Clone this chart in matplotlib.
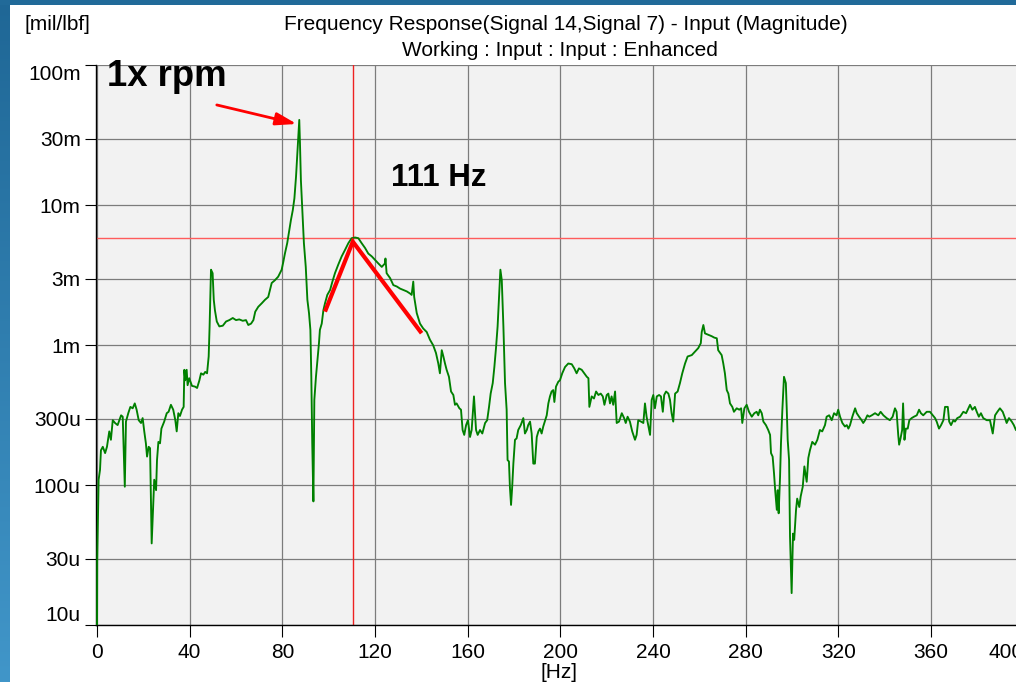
import numpy as np
import matplotlib
matplotlib.use("Agg")
import matplotlib.pyplot as plt
from matplotlib.ticker import FixedLocator, NullLocator
from matplotlib.colors import LinearSegmentedColormap

plt.rcParams['font.family'] = ['Liberation Sans', 'DejaVu Sans']

# ---------------- data (frequency in Hz, magnitude in dB re 1 mil/lbf) ----------------
freq_0_100 = [0.0, 0.1, 0.7, 1.3, 1.7, 2.5, 3.5, 4.3, 5.3, 6.0,
              6.8, 7.8, 8.9, 10.4, 11.1, 12.0, 12.5, 13.5, 14.4, 15.4,
              16.3, 17.1, 18.0, 19.0, 19.7, 20.4, 21.1, 21.6, 22.3, 22.9,
              23.6, 24.3, 24.7, 25.5, 25.9, 26.5, 27.2, 27.8, 29.0, 30.1,
              30.9, 31.9, 32.9, 33.8, 34.4, 35.1, 35.8, 36.7, 37.4, 37.7,
              38.1, 38.7, 39.1, 39.8, 41.0, 42.3, 43.2, 44.2, 44.9, 45.9,
              46.7, 47.5, 48.2, 48.6, 49.2, 49.9, 50.4, 50.9, 51.7, 52.8,
              54.3, 55.7, 57.1, 58.6, 60.0, 61.4, 62.9, 64.3, 65.3, 66.5,
              67.5, 68.3, 69.6, 71.1, 72.5, 73.9, 75.4, 76.8, 78.2, 79.7,
              80.4, 81.1, 82.1, 83.0, 83.7, 84.5, 85.2, 85.9, 86.4, 87.1,
              87.3, 87.6, 88.0, 88.6, 89.3, 90.1, 90.8, 91.5, 92.1, 92.5,
              92.9, 93.4, 93.8, 94.5, 95.3, 95.8, 96.2, 97.0, 97.7, 98.4,
              99.4]
mag_db_0_100 = [-102.1, -90.7, -79.2, -77.8, -75.0, -74.5, -75.4, -74.5, -72.3, -73.5,
                -70.7, -71.1, -71.4, -70.0, -70.2, -80.2, -70.9, -69.7, -68.8, -69.0,
                -68.3, -69.2, -70.7, -71.1, -70.4, -72.3, -74.0, -75.9, -74.5, -74.7,
                -88.3, -82.6, -79.2, -80.7, -76.4, -73.8, -74.0, -71.9, -70.9, -69.7,
                -69.5, -68.5, -69.2, -70.7, -72.3, -69.7, -70.1, -69.2, -68.8, -63.5,
                -65.0, -63.5, -65.7, -64.7, -65.8, -65.9, -66.1, -65.0, -64.0, -64.2,
                -63.8, -64.0, -61.6, -57.3, -49.2, -49.7, -53.5, -55.0, -56.6, -57.3,
                -57.2, -56.6, -56.4, -56.1, -56.4, -56.3, -56.5, -56.4, -57.1, -56.9,
                -56.4, -55.2, -54.5, -54.0, -53.5, -53.1, -51.1, -50.7, -50.2, -49.2,
                -48.1, -46.9, -45.4, -43.5, -42.1, -40.7, -39.0, -35.9, -33.1, -29.2,
                -27.8, -31.1, -36.4, -40.7, -45.4, -48.8, -53.5, -55.4, -57.8, -64.5,
                -74.0, -82.3, -67.8, -64.5, -61.6, -59.7, -57.8, -56.9, -55.0, -54.0,
                -52.8]

freq_100_200 = [100.6, 101.6, 102.7, 104.1, 105.6, 107.0, 108.5, 109.9, 111.4, 112.8,
                114.2, 115.7, 117.1, 118.6, 120.0, 121.4, 122.9, 124.3, 124.5, 125.0,
                126.5, 127.9, 129.4, 130.8, 132.2, 133.7, 135.1, 135.8, 136.5, 136.9,
                138.0, 139.4, 140.8, 142.3, 143.7, 145.1, 146.3, 147.3, 148.0, 148.8,
                149.5, 150.2, 150.9, 151.9, 152.8, 153.8, 154.5, 155.2, 156.4, 157.1,
                157.8, 158.5, 159.3, 160.1, 161.0, 161.7, 162.7, 163.6, 164.3, 165.3,
                166.3, 167.5, 168.4, 169.2, 169.9, 170.8, 171.5, 172.2, 172.9, 173.5,
                174.1, 174.7, 175.4, 176.1, 176.8, 177.2, 177.8, 178.2, 178.7, 179.2,
                179.7, 180.4, 181.1, 181.8, 182.9, 184.0, 184.7, 185.5, 186.1, 186.9,
                187.6, 188.3, 189.0, 189.8, 190.5, 191.2, 191.9, 192.6, 194.1, 194.8,
                195.5, 196.2, 196.9, 197.4, 198.1, 199.1, 199.8]
mag_db_100_200 = [-52.1, -50.9, -49.7, -48.5, -47.3, -46.4, -45.4, -44.7, -44.6, -44.7,
                  -45.4, -46.1, -46.9, -47.3, -47.8, -48.3, -48.8, -48.3, -47.6, -49.7,
                  -50.4, -51.4, -51.6, -51.9, -52.1, -52.3, -52.6, -52.8, -50.9, -53.1,
                  -55.4, -56.9, -57.6, -58.1, -59.2, -60.0, -61.1, -62.6, -64.0, -60.7,
                  -61.6, -62.6, -63.5, -64.5, -66.6, -67.1, -68.5, -68.3, -69.0, -69.2,
                  -72.1, -72.8, -71.4, -70.7, -73.1, -72.1, -67.3, -72.1, -72.8, -72.1,
                  -72.6, -71.1, -70.7, -68.8, -66.9, -65.4, -63.1, -60.4, -57.3, -53.1,
                  -49.2, -50.7, -57.3, -65.4, -69.2, -76.4, -76.6, -80.2, -82.8, -80.2,
                  -76.9, -73.5, -73.3, -72.1, -71.4, -70.4, -72.6, -72.1, -71.4, -70.9,
                  -72.6, -76.9, -76.9, -73.1, -72.3, -71.9, -72.6, -71.6, -70.0, -68.3,
                  -67.3, -66.6, -66.4, -68.1, -65.9, -65.2, -65.0]

freq_200_300 = [200.8, 202.0, 203.4, 204.9, 206.0, 207.0, 208.0, 209.2, 210.3, 211.4,
                212.1, 212.5, 213.5, 214.5, 215.4, 216.4, 217.4, 218.3, 219.0, 220.0,
                220.7, 221.4, 222.1, 222.8, 223.6, 224.3, 225.3, 226.5, 227.5, 228.2,
                229.0, 230.0, 231.0, 232.2, 232.9, 233.6, 234.8, 235.8, 236.5, 237.2,
                237.9, 238.7, 239.4, 240.1, 240.8, 241.6, 242.6, 243.4, 244.2, 244.8,
                245.6, 246.6, 247.3, 248.0, 248.7, 249.5, 250.6, 251.6, 252.6, 253.8,
                254.9, 256.7, 258.1, 259.5, 260.6, 261.0, 261.7, 262.4, 263.8, 265.3,
                266.4, 267.5, 268.1, 269.6, 270.3, 271.0, 271.8, 272.5, 273.2, 274.2,
                274.9, 276.1, 277.2, 278.0, 278.5, 279.4, 280.4, 281.4, 282.6, 283.7,
                284.7, 285.4, 286.1, 286.9, 287.6, 288.7, 289.7, 290.5, 290.9, 291.6,
                292.2, 292.7, 293.4, 293.8, 294.2, 294.8, 295.2, 295.8, 296.5, 297.3,
                297.7, 298.1, 298.7, 299.1, 299.8]
mag_db_200_300 = [-64.0, -63.1, -62.6, -62.7, -63.3, -64.0, -63.3, -63.5, -64.0, -64.5,
                  -64.7, -68.8, -67.3, -67.6, -66.6, -67.1, -66.9, -67.3, -68.5, -67.1,
                  -66.9, -68.3, -67.3, -68.5, -66.6, -71.1, -70.9, -69.7, -70.4, -71.1,
                  -70.2, -70.9, -72.3, -73.5, -72.8, -70.7, -70.9, -71.1, -68.3, -70.2,
                  -71.4, -72.8, -67.8, -67.1, -69.0, -67.3, -67.1, -67.3, -69.5, -67.1,
                  -66.6, -66.9, -67.8, -69.7, -70.9, -66.9, -66.6, -65.4, -64.0, -62.6,
                  -61.6, -61.4, -60.9, -60.4, -59.7, -58.1, -57.1, -58.3, -58.5, -58.7,
                  -58.9, -59.0, -60.7, -61.4, -62.6, -64.0, -66.4, -66.9, -68.3, -68.8,
                  -69.5, -69.0, -69.2, -69.0, -71.1, -69.0, -68.5, -69.5, -70.2, -69.7,
                  -69.5, -70.0, -69.2, -69.7, -70.9, -71.4, -72.1, -72.8, -75.4, -75.9,
                  -78.3, -80.7, -83.5, -80.7, -84.0, -78.8, -74.0, -69.2, -64.5, -65.4,
                  -69.2, -73.5, -76.4, -87.3, -95.4]

freq_300_400 = [300.4, 300.9, 301.7, 302.2, 303.1, 303.7, 304.6, 305.3, 306.3, 307.0,
                307.7, 308.7, 309.9, 310.9, 312.0, 313.0, 314.2, 314.9, 316.0, 317.1,
                318.1, 319.2, 319.9, 320.7, 321.7, 322.8, 323.6, 324.3, 325.0, 326.0,
                327.2, 327.9, 328.9, 330.0, 330.7, 331.5, 332.5, 333.3, 334.4, 335.8,
                337.2, 338.2, 339.4, 340.8, 342.2, 343.4, 344.4, 345.1, 345.8, 346.2,
                346.8, 347.5, 347.9, 348.5, 349.1, 349.9, 350.6, 351.6, 352.6, 353.8,
                354.8, 355.6, 356.6, 358.1, 359.5, 360.7, 361.7, 362.4, 363.4, 364.3,
                365.3, 366.0, 367.2, 367.8, 368.6, 369.6, 370.3, 371.3, 372.5, 373.9,
                375.1, 376.1, 376.8, 377.8, 378.9, 379.7, 380.6, 381.5, 382.5, 384.0,
                385.4, 386.6, 387.6, 388.6, 389.7, 390.9, 391.9, 392.6, 393.6, 394.8,
                395.7, 396.6, 398.4, 400.5]
mag_db_300_400 = [-86.9, -87.8, -83.5, -81.9, -83.1, -81.6, -80.2, -77.3, -79.5, -76.1,
                  -75.0, -73.8, -74.2, -73.5, -72.1, -72.3, -71.4, -70.2, -70.0, -70.7,
                  -69.7, -70.0, -69.2, -70.2, -71.1, -71.6, -71.4, -71.9, -71.4, -70.2,
                  -69.0, -69.7, -70.2, -70.7, -71.1, -70.7, -70.0, -70.2, -70.0, -69.7,
                  -70.0, -69.5, -70.0, -70.4, -70.7, -70.2, -69.0, -69.5, -72.8, -74.2,
                  -73.3, -72.1, -68.3, -73.5, -71.9, -71.9, -70.7, -70.4, -70.2, -70.0,
                  -69.2, -69.7, -70.0, -69.5, -69.5, -70.0, -70.4, -70.9, -71.9, -71.4,
                  -70.7, -68.8, -68.8, -70.9, -71.4, -70.7, -70.9, -70.4, -70.2, -69.5,
                  -69.7, -69.0, -68.5, -69.2, -68.8, -69.5, -70.2, -69.7, -70.4, -70.7,
                  -70.7, -72.6, -70.0, -69.5, -69.0, -69.5, -70.4, -71.1, -70.4, -70.9,
                  -71.4, -72.1, -72.4, -71.8]

# cursor (peak) and hand-drawn annotation
cursor_hz = 110.6
cursor_mag = 5.85e-3
sketch_hz = [98.4, 110.4, 140.1]
sketch_mag = [1.74e-3, 5.5e-3, 1.22e-3]
arrow_tail = (51.7, 52.1e-3)
arrow_head = (86.2, 38.1e-3)

x_ticks = [0, 40, 80, 120, 160, 200, 240, 280, 320, 360, 400]
y_ticks = [1e-5, 3e-5, 1e-4, 3e-4, 1e-3, 3e-3, 1e-2, 3e-2, 1e-1]
y_tick_labels = ['10u', '30u', '100u', '300u', '1m', '3m', '10m', '30m', '100m']

title_1 = 'Frequency Response(Signal 14,Signal 7) - Input (Magnitude)'
title_2 = 'Working : Input : Input : Enhanced'

for a, b in [(freq_0_100, mag_db_0_100), (freq_100_200, mag_db_100_200),
             (freq_200_300, mag_db_200_300), (freq_300_400, mag_db_300_400)]:
    assert len(a) == len(b), (len(a), len(b), a[0])

freq_hz = np.array(freq_0_100 + freq_100_200 + freq_200_300 + freq_300_400)
mag_db = np.array(mag_db_0_100 + mag_db_100_200 + mag_db_200_300 + mag_db_300_400)
mag = 10.0 ** (mag_db / 20.0)   # mil/lbf

# ---------------- figure ----------------
W, H = 1016, 682
fig = plt.figure(figsize=(W / 100, H / 100), dpi=100)
fig.patch.set_facecolor('white')

# blue window frame (left gradient strip + top strip)
ax_l = fig.add_axes([0, 0, 10 / W, 1])
grad = np.linspace(0, 1, 256).reshape(-1, 1)
cm = LinearSegmentedColormap.from_list('frame', ['#1f6796', '#4196c9'])
ax_l.imshow(grad, aspect='auto', cmap=cm, extent=[0, 1, 0, 1], origin='upper')
ax_l.set_axis_off()
ax_t = fig.add_axes([0, 1 - 5 / H, 1, 5 / H])
ax_t.set_facecolor('#216a99')
ax_t.set_xticks([]); ax_t.set_yticks([])
for s in ax_t.spines.values():
    s.set_visible(False)

# main axes
x0, x1 = -0.43, 410.0
px_per_hz = 2.317
left = 96 / W
bottom = (H - 625.3) / H
height = 560 / H
width = (x1 - x0) * px_per_hz / W
ax = fig.add_axes([left, bottom, width, height])
ax.set_facecolor('#f2f2f2')
ax.set_yscale('log')
ax.set_xlim(x0, x1)
ax.set_ylim(1e-5, 1e-1)
ax.xaxis.set_major_locator(FixedLocator(x_ticks))
ax.set_xticklabels([str(v) for v in x_ticks])
ax.yaxis.set_major_locator(FixedLocator(y_ticks))
ax.yaxis.set_minor_locator(NullLocator())
ax.set_yticklabels(y_tick_labels)
ax.grid(True, which='major', color='#7c7c7c', lw=0.9)
ax.set_axisbelow(True)
for side in ('top', 'right'):
    ax.spines[side].set_visible(False)
for side in ('left', 'bottom'):
    ax.spines[side].set_color('black')
    ax.spines[side].set_linewidth(1.0)
FS = 15
ax.tick_params(axis='y', direction='out', length=8, width=0.8, colors='black',
               labelsize=FS, pad=3)
ax.tick_params(axis='x', direction='out', length=8.5, width=0.8, colors='black',
               labelsize=FS, pad=4)
yt = ax.yaxis.get_major_ticks()
yt[0].label1.set_verticalalignment('bottom')
yt[-1].label1.set_verticalalignment('top')
xt = ax.xaxis.get_major_ticks()
xt[-1].label1.set_horizontalalignment('right')

# data curve
ax.plot(freq_hz, mag, color='#008000', lw=1.35, zorder=3)

# cursor lines
ax.axvline(cursor_hz, color='#ee2222', lw=1.0, zorder=2.5)
ax.axhline(cursor_mag, color='#ff5c5c', lw=1.0, zorder=2.5)

# hand-drawn red annotation
ax.plot(sketch_hz, sketch_mag, color='#ff0000', lw=3.0, zorder=4,
        solid_capstyle='butt', solid_joinstyle='miter')
ax.annotate('', xy=arrow_head, xytext=arrow_tail,
            arrowprops=dict(arrowstyle='-|>,head_length=1.25,head_width=0.38',
                            color='#ff0000', lw=2.0, shrinkA=0, shrinkB=0,
                            mutation_scale=10), zorder=4)

# texts
fig.text(107 / W, 1 - 86 / H, '1x rpm', fontsize=26.3, fontweight='bold',
         ha='left', va='baseline', zorder=10)
fig.text(391 / W, 1 - 186 / H, '111 Hz', fontsize=22.4, fontweight='bold',
         ha='left', va='baseline', zorder=10)
fig.text(566 / W, 1 - 25 / H, title_1, fontsize=FS, ha='center', va='center')
fig.text(560 / W, 1 - 50 / H, title_2, fontsize=FS, ha='center', va='center')
fig.text(25 / W, 1 - 25 / H, '[mil/lbf]', fontsize=FS, ha='left', va='center')
fig.text(559 / W, 1 - 673 / H, '[Hz]', fontsize=FS, ha='center', va='center')

fig.savefig('out.png', dpi=100)
